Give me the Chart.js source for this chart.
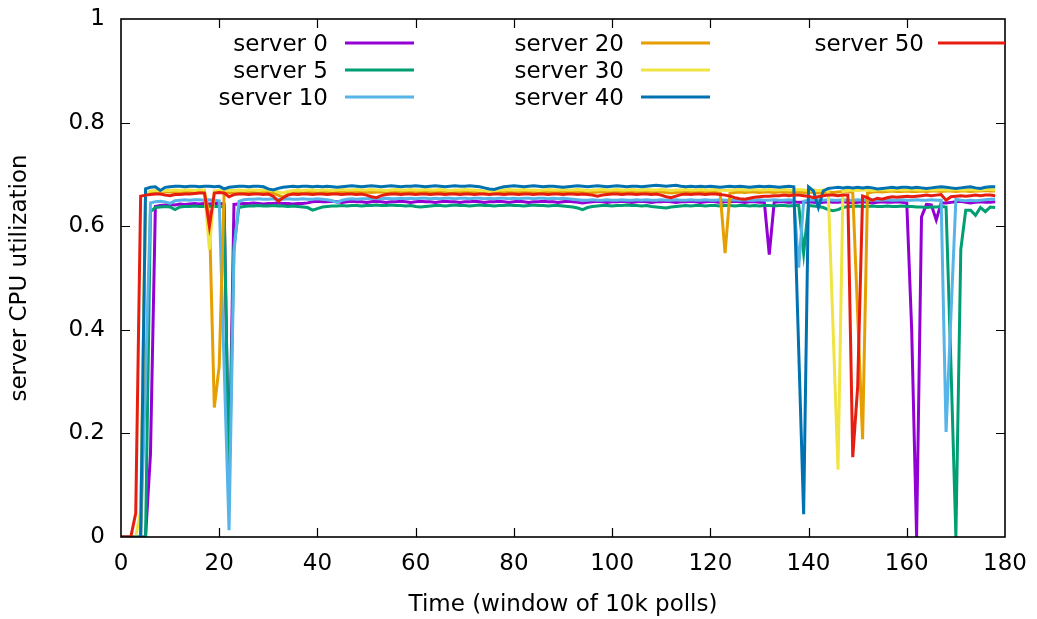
<!DOCTYPE html>
<html>
<head>
<meta charset="utf-8">
<script src="https://cdn.jsdelivr.net/npm/chart.js@4.4.1/dist/chart.umd.min.js"></script>
<style>
  html, body { margin: 0; padding: 0; background: #fff; }
  #wrap { width: 1037px; height: 619px; }
</style>
</head>
<body>
<div id="wrap"><canvas id="c" width="1037" height="619"></canvas></div>
<script>
// ---- data (x = window index 0..178) ----
const seriesNames = ['server 0', 'server 5', 'server 10', 'server 20', 'server 30', 'server 40', 'server 50'];
const seriesColors = ['#9400d3', '#009e73', '#56b4e9', '#e69f00', '#f0e442', '#0072b2', '#e51e10'];
const xTicks = [0, 20, 40, 60, 80, 100, 120, 140, 160, 180];
const yTicks = [0, 0.2, 0.4, 0.6, 0.8, 1];

const server0 = [
0,0,0,0,0,0,0.16,0.638,0.640,0.641,
0.642,0.641,0.643,0.642,0.643,0.644,0.643,0.644,0.643,0.644,
0.644,0.643,0.10,0.642,0.643,0.644,0.644,0.645,0.644,0.643,
0.644,0.644,0.645,0.644,0.644,0.643,0.644,0.644,0.645,0.647,
0.648,0.647,0.647,0.648,0.647,0.646,0.647,0.648,0.647,0.647,
0.646,0.647,0.648,0.647,0.646,0.647,0.647,0.648,0.647,0.646,
0.647,0.648,0.647,0.647,0.646,0.647,0.648,0.647,0.647,0.646,
0.647,0.647,0.648,0.647,0.646,0.647,0.647,0.648,0.647,0.646,
0.647,0.648,0.647,0.646,0.647,0.647,0.648,0.647,0.647,0.646,
0.647,0.648,0.647,0.646,0.645,0.646,0.647,0.648,0.647,0.646,
0.647,0.647,0.648,0.647,0.646,0.647,0.648,0.647,0.646,0.647,
0.647,0.648,0.647,0.646,0.647,0.647,0.648,0.647,0.646,0.647,
0.648,0.647,0.646,0.647,0.647,0.648,0.647,0.646,0.647,0.647,
0.646,0.646,0.545,0.646,0.647,0.647,0.646,0.647,0.646,0.646,
0.647,0.646,0.645,0.646,0.647,0.646,0.646,0.647,0.646,0.645,
0.646,0.647,0.646,0.645,0.646,0.647,0.646,0.646,0.647,0.646,
0.645,0.40,0.0,0.618,0.642,0.641,0.612,0.645,0.645,0.646,
0.647,0.648,0.646,0.645,0.646,0.647,0.646,0.646,0.647
];
const server5 = [
0,0,0,0,0,0,0.628,0.636,0.637,0.638,
0.637,0.632,0.637,0.638,0.638,0.639,0.638,0.638,0.639,0.638,
0.638,0.637,0.10,0.56,0.636,0.638,0.639,0.639,0.640,0.639,
0.639,0.640,0.639,0.639,0.638,0.639,0.638,0.637,0.636,0.631,
0.634,0.637,0.638,0.639,0.639,0.640,0.639,0.640,0.640,0.639,
0.640,0.640,0.641,0.640,0.640,0.641,0.640,0.640,0.639,0.640,
0.638,0.637,0.638,0.639,0.640,0.640,0.639,0.640,0.641,0.640,
0.640,0.639,0.640,0.641,0.640,0.640,0.639,0.640,0.640,0.641,
0.640,0.640,0.639,0.640,0.641,0.640,0.640,0.639,0.640,0.640,
0.639,0.638,0.637,0.635,0.632,0.636,0.638,0.639,0.640,0.640,
0.639,0.640,0.640,0.641,0.640,0.640,0.639,0.640,0.638,0.637,
0.636,0.635,0.637,0.638,0.639,0.640,0.639,0.640,0.640,0.639,
0.640,0.640,0.639,0.640,0.640,0.639,0.640,0.640,0.639,0.640,
0.639,0.640,0.640,0.639,0.640,0.640,0.639,0.640,0.640,0.548,
0.640,0.639,0.638,0.636,0.632,0.630,0.632,0.636,0.638,0.638,
0.639,0.638,0.638,0.639,0.638,0.638,0.639,0.638,0.638,0.639,
0.638,0.638,0.637,0.637,0.636,0.637,0.637,0.638,0.637,0.33,
0.0,0.555,0.631,0.631,0.621,0.636,0.628,0.637,0.636
];
const server10 = [
0,0,0,0,0,0.30,0.645,0.647,0.648,0.647,
0.644,0.649,0.650,0.651,0.650,0.651,0.651,0.650,0.651,0.650,
0.649,0.33,0.013,0.55,0.648,0.651,0.652,0.652,0.653,0.652,
0.652,0.653,0.652,0.652,0.653,0.652,0.652,0.653,0.652,0.652,
0.653,0.652,0.651,0.649,0.646,0.650,0.652,0.653,0.652,0.653,
0.653,0.654,0.653,0.653,0.654,0.653,0.653,0.654,0.653,0.654,
0.653,0.654,0.654,0.653,0.654,0.653,0.654,0.654,0.653,0.654,
0.654,0.653,0.654,0.654,0.653,0.654,0.653,0.654,0.654,0.653,
0.654,0.653,0.654,0.654,0.653,0.654,0.654,0.653,0.654,0.653,
0.654,0.653,0.652,0.651,0.650,0.650,0.651,0.650,0.650,0.651,
0.650,0.650,0.651,0.650,0.650,0.651,0.650,0.651,0.650,0.650,
0.651,0.650,0.650,0.651,0.650,0.650,0.651,0.650,0.650,0.651,
0.650,0.650,0.651,0.650,0.650,0.651,0.650,0.651,0.650,0.650,
0.651,0.650,0.650,0.651,0.650,0.650,0.651,0.650,0.52,0.648,
0.650,0.651,0.650,0.650,0.651,0.650,0.650,0.651,0.650,0.650,
0.651,0.650,0.650,0.651,0.650,0.650,0.651,0.650,0.650,0.651,
0.650,0.650,0.651,0.650,0.650,0.651,0.650,0.650,0.203,0.43,
0.652,0.650,0.649,0.650,0.649,0.650,0.651,0.652,0.652
];
const server20 = [
0,0,0,0,0,0.663,0.665,0.666,0.665,0.666,
0.666,0.665,0.666,0.667,0.666,0.667,0.667,0.666,0.62,0.25,
0.33,0.664,0.665,0.665,0.664,0.665,0.666,0.666,0.665,0.666,
0.665,0.664,0.660,0.656,0.662,0.665,0.666,0.665,0.666,0.666,
0.665,0.666,0.666,0.665,0.666,0.666,0.665,0.666,0.666,0.665,
0.666,0.665,0.666,0.666,0.665,0.666,0.666,0.665,0.666,0.666,
0.665,0.666,0.666,0.665,0.666,0.665,0.666,0.666,0.665,0.666,
0.666,0.665,0.666,0.665,0.664,0.665,0.666,0.666,0.665,0.666,
0.666,0.665,0.666,0.666,0.665,0.666,0.666,0.665,0.666,0.666,
0.665,0.666,0.666,0.665,0.666,0.666,0.665,0.666,0.666,0.665,
0.666,0.666,0.665,0.666,0.666,0.665,0.666,0.666,0.665,0.666,
0.666,0.665,0.664,0.665,0.666,0.666,0.665,0.666,0.666,0.665,
0.666,0.665,0.664,0.548,0.664,0.665,0.666,0.665,0.666,0.666,
0.665,0.666,0.666,0.665,0.666,0.666,0.665,0.666,0.666,0.665,
0.666,0.665,0.664,0.665,0.666,0.665,0.666,0.667,0.668,0.665,
0.43,0.189,0.664,0.666,0.667,0.666,0.667,0.668,0.667,0.667,
0.668,0.667,0.667,0.668,0.667,0.668,0.668,0.667,0.668,0.668,
0.667,0.668,0.668,0.667,0.668,0.668,0.669,0.668,0.668
];
const server30 = [
0,0,0,0,0.05,0.663,0.668,0.669,0.668,0.669,
0.669,0.670,0.669,0.670,0.670,0.669,0.670,0.670,0.555,0.668,
0.669,0.670,0.669,0.669,0.670,0.669,0.670,0.670,0.669,0.670,
0.670,0.669,0.666,0.664,0.667,0.669,0.670,0.669,0.670,0.670,
0.669,0.670,0.670,0.669,0.670,0.671,0.670,0.670,0.671,0.670,
0.670,0.671,0.670,0.670,0.669,0.670,0.671,0.670,0.670,0.671,
0.670,0.670,0.671,0.670,0.670,0.671,0.670,0.669,0.670,0.670,
0.671,0.670,0.670,0.669,0.668,0.667,0.668,0.670,0.670,0.671,
0.670,0.670,0.671,0.670,0.670,0.669,0.670,0.671,0.670,0.670,
0.671,0.670,0.670,0.671,0.670,0.669,0.670,0.670,0.671,0.670,
0.670,0.671,0.670,0.670,0.671,0.670,0.670,0.671,0.670,0.670,
0.671,0.670,0.669,0.670,0.670,0.671,0.670,0.670,0.671,0.670,
0.670,0.671,0.670,0.669,0.670,0.670,0.671,0.670,0.670,0.671,
0.670,0.670,0.671,0.670,0.670,0.671,0.670,0.670,0.671,0.670,
0.669,0.670,0.669,0.670,0.668,0.40,0.13,0.668,0.669,0.670,
0.669,0.670,0.670,0.669,0.670,0.671,0.670,0.670,0.671,0.670,
0.670,0.671,0.670,0.670,0.671,0.670,0.670,0.671,0.670,0.670,
0.671,0.670,0.670,0.671,0.670,0.670,0.671,0.671,0.670
];
const server40 = [
0,0,0,0,0,0.672,0.675,0.676,0.669,0.675,
0.676,0.677,0.677,0.676,0.677,0.677,0.676,0.677,0.677,0.676,
0.677,0.672,0.675,0.676,0.677,0.677,0.676,0.677,0.677,0.676,
0.672,0.670,0.673,0.675,0.676,0.677,0.676,0.677,0.677,0.676,
0.677,0.676,0.677,0.676,0.675,0.676,0.677,0.678,0.677,0.676,
0.677,0.678,0.677,0.676,0.677,0.678,0.677,0.676,0.677,0.677,
0.678,0.677,0.676,0.677,0.678,0.677,0.676,0.677,0.678,0.677,
0.677,0.678,0.677,0.676,0.674,0.672,0.671,0.674,0.676,0.677,
0.678,0.677,0.676,0.677,0.678,0.677,0.676,0.677,0.677,0.676,
0.675,0.676,0.677,0.678,0.677,0.676,0.677,0.678,0.677,0.676,
0.677,0.678,0.677,0.676,0.677,0.677,0.676,0.677,0.678,0.679,
0.678,0.677,0.678,0.679,0.677,0.676,0.677,0.676,0.677,0.676,
0.677,0.676,0.675,0.676,0.677,0.676,0.677,0.676,0.675,0.676,
0.677,0.676,0.677,0.676,0.675,0.676,0.677,0.676,0.36,0.044,
0.676,0.668,0.636,0.668,0.673,0.674,0.675,0.674,0.675,0.674,
0.675,0.674,0.675,0.674,0.672,0.673,0.674,0.675,0.674,0.675,
0.675,0.674,0.675,0.674,0.673,0.674,0.675,0.676,0.675,0.674,
0.673,0.674,0.675,0.676,0.674,0.673,0.675,0.676,0.676
];
const server50 = [
0,0,0,0.046,0.658,0.660,0.661,0.662,0.662,0.660,
0.659,0.661,0.661,0.662,0.662,0.663,0.664,0.664,0.600,0.664,
0.665,0.664,0.657,0.661,0.662,0.662,0.661,0.662,0.662,0.661,
0.662,0.658,0.648,0.655,0.660,0.662,0.661,0.662,0.662,0.661,
0.662,0.662,0.661,0.662,0.662,0.661,0.662,0.662,0.661,0.662,
0.660,0.657,0.655,0.659,0.661,0.662,0.662,0.661,0.662,0.662,
0.661,0.662,0.662,0.661,0.662,0.662,0.661,0.662,0.662,0.661,
0.662,0.662,0.661,0.662,0.662,0.661,0.662,0.662,0.661,0.662,
0.662,0.661,0.662,0.662,0.661,0.662,0.662,0.661,0.662,0.662,
0.661,0.662,0.662,0.661,0.662,0.661,0.660,0.658,0.660,0.661,
0.662,0.662,0.661,0.662,0.662,0.661,0.662,0.662,0.661,0.662,
0.660,0.657,0.655,0.658,0.661,0.662,0.661,0.662,0.662,0.661,
0.662,0.662,0.661,0.660,0.658,0.655,0.653,0.652,0.654,0.656,
0.657,0.658,0.658,0.659,0.659,0.660,0.659,0.660,0.660,0.659,
0.658,0.655,0.657,0.659,0.660,0.660,0.659,0.660,0.660,0.154,
0.29,0.658,0.655,0.650,0.654,0.652,0.655,0.657,0.656,0.657,
0.658,0.657,0.658,0.659,0.660,0.659,0.660,0.661,0.650,0.657,
0.658,0.659,0.658,0.659,0.660,0.659,0.660,0.660,0.659
];
const seriesValues = [server0, server5, server10, server20, server30, server40, server50];
const timeIdx = server0.map((_, i) => i);

// ---- styling ----
const FONT = 'DejaVu Sans';
const FS = 23;

const gnuplotFrame = {
  id: 'gnuplotFrame',
  afterDatasetsDraw(chart) {
    const { ctx, chartArea: a, scales: { x, y } } = chart;
    const TL = 9;
    ctx.save();
    ctx.strokeStyle = '#000';
    ctx.lineWidth = 1.2;
    ctx.beginPath();
    xTicks.forEach(v => {
      const px = Math.round(x.getPixelForValue(v)) + 0.5;
      if (v !== 0 && v !== 180) {
        ctx.moveTo(px, a.bottom); ctx.lineTo(px, a.bottom - TL);
        ctx.moveTo(px, a.top); ctx.lineTo(px, a.top + TL);
      }
    });
    yTicks.forEach(v => {
      const py = Math.round(y.getPixelForValue(v)) + 0.5;
      if (v !== 0 && v !== 1) {
        ctx.moveTo(a.left, py); ctx.lineTo(a.left + TL, py);
        ctx.moveTo(a.right, py); ctx.lineTo(a.right - TL, py);
      }
    });
    ctx.stroke();
    ctx.lineWidth = 1.6;
    ctx.strokeRect(a.left, a.top, a.right - a.left, a.bottom - a.top);
    ctx.restore();
  },
  afterDraw(chart) {
    const { ctx } = chart;
    const cols = [{ tr: 328, ls: 345 }, { tr: 624, ls: 641 }, { tr: 924, ls: 938 }];
    const rows = [44, 71, 98];
    ctx.save();
    ctx.font = FS + 'px "' + FONT + '"';
    ctx.textAlign = 'right';
    ctx.textBaseline = 'middle';
    chart.data.datasets.forEach((ds, i) => {
      const c = cols[Math.floor(i / 3)];
      const ry = rows[i % 3];
      ctx.fillStyle = '#000';
      ctx.fillText(ds.label, c.tr, ry + 1);
      ctx.strokeStyle = ds.borderColor;
      ctx.lineWidth = 3;
      ctx.beginPath();
      ctx.moveTo(c.ls, ry - 1);
      ctx.lineTo(Math.min(c.ls + 69, 1005), ry - 1);
      ctx.stroke();
    });
    ctx.restore();
  }
};

const datasets = seriesNames.map((name, i) => ({
  label: name,
  data: seriesValues[i],
  borderColor: seriesColors[i],
  backgroundColor: seriesColors[i],
  borderWidth: 3,
  pointRadius: 0,
  tension: 0,
  fill: false,
  order: seriesNames.length - i
}));

new Chart(document.getElementById('c'), {
  type: 'line',
  data: { labels: timeIdx, datasets },
  options: {
    responsive: false,
    animation: false,
    layout: { padding: { left: 0, right: 32, top: 19, bottom: 0 } },
    plugins: { legend: { display: false }, tooltip: { enabled: false } },
    scales: {
      x: {
        type: 'linear', min: 0, max: 180,
        afterBuildTicks(s) { s.ticks = xTicks.map(v => ({ value: v })); },
        afterFit(s) { s.height = 82; s.paddingLeft = 0; s.paddingRight = 0; },
        ticks: { color: '#000', font: { family: FONT, size: FS }, padding: 13, maxRotation: 0, autoSkip: false,
                 callback: v => String(v) },
        grid: { display: false, drawTicks: false },
        border: { display: false },
        title: { display: true, text: 'Time (window of 10k polls)', color: '#000', font: { family: FONT, size: FS }, padding: { top: 0, bottom: 0 } }
      },
      y: {
        min: 0, max: 1,
        afterBuildTicks(s) { s.ticks = yTicks.map(v => ({ value: v })); },
        afterFit(s) { s.width = 121; s.paddingTop = 0; s.paddingBottom = 0; },
        ticks: { color: '#000', font: { family: FONT, size: FS }, padding: 16,
                 callback: v => String(Math.round(v * 10) / 10) },
        grid: { display: false, drawTicks: false },
        border: { display: false },
        title: { display: true, text: 'server CPU utilization', color: '#000', font: { family: FONT, size: FS }, padding: { top: 6, bottom: 0 } }
      }
    }
  },
  plugins: [gnuplotFrame]
});
</script>
</body>
</html>
